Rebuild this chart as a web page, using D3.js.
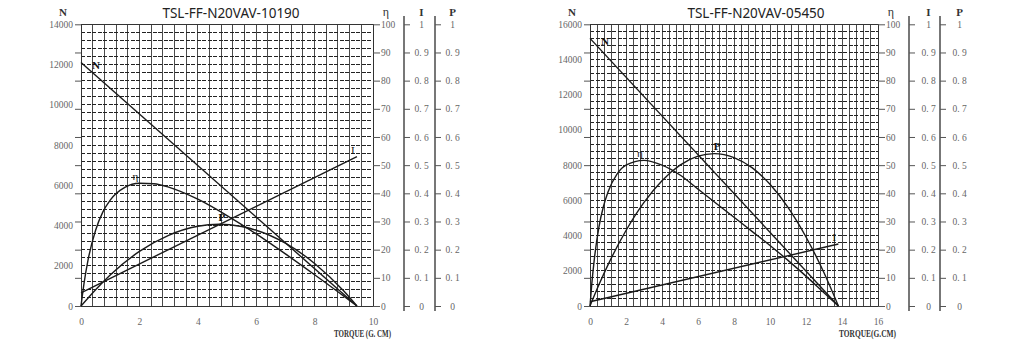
<!DOCTYPE html>
<html>
<head>
<meta charset="utf-8">
<script src="https://cdn.jsdelivr.net/npm/d3@7"></script>
<style>
  body { margin: 0; background: #fff; }
  svg text { font-family: "Liberation Serif", "DejaVu Serif", serif; }
  .tick text { fill: #666; font-size: 9.5px; font-family: "Liberation Serif", "DejaVu Serif", serif; }
  .curve { fill: none; stroke: #1a1a1a; stroke-width: 1.4; }
</style>
</head>
<body>
<svg id="chart" width="1024" height="340"></svg>
<script>
// ============================================================
// DATA — read off the two motor curve sheets
// ============================================================

// left sheet
const titleA = 'TSL-FF-N20VAV-10190';
const torqueTicksA = [0, 2, 4, 6, 8, 10];
const speedTicksA = [0, 2000, 4000, 6000, 8000, 10000, 12000, 14000];
const speedA = [[0, 12100], [9.45, 0]];
const currentA = [[0, 0.047], [9.45, 0.53]];
const effA = [[0, 0], [0.1, 7.8], [0.25, 16.8], [0.5, 26.9], [0.75, 33.4], [1, 37.6], [1.5, 42.1],
    [2, 43.6], [2.5, 43.4], [3, 42.2], [4, 37.9], [5, 32.1], [6, 25.6], [7, 18.5], [8, 11.1],
    [9, 3.5], [9.45, 0]];
const powerA = [[0, 0], [0.5, 0.058], [1, 0.11], [2, 0.194], [3, 0.251], [4, 0.283], [4.725, 0.29],
    [5.5, 0.282], [6, 0.269], [7, 0.223], [8, 0.151], [9, 0.053], [9.45, 0]];

// right sheet
const titleB = 'TSL-FF-N20VAV-05450';
const torqueTicksB = [0, 2, 4, 6, 8, 10, 12, 14, 16];
const speedTicksB = [0, 2000, 4000, 6000, 8000, 10000, 12000, 14000, 16000];
const speedB = [[0, 15200], [13.8, 0]];
const currentB = [[0, 0.015], [13.8, 0.22]];
const effB = [[0, 0], [0.1, 7.9], [0.25, 17.2], [0.5, 28.2], [0.75, 35.4], [1, 40.5], [1.5, 46.8],
    [2, 50.0], [3, 51.7], [4, 50.0], [5, 46.5], [6, 41.5], [7, 36.5], [8, 31.5], [9, 26.5],
    [10, 21.5], [11, 16.2], [12, 10.6], [13, 4.7], [13.8, 0]];
const powerB = [[0, 0], [0.5, 0.076], [1, 0.146], [2, 0.268], [3, 0.368], [4, 0.445], [5, 0.5],
    [6, 0.532], [6.9, 0.541], [8, 0.527], [9, 0.491], [10, 0.432], [11, 0.35], [12, 0.245],
    [13, 0.118], [13.8, 0]];

// shared right-hand scales
const effTicks = [0, 10, 20, 30, 40, 50, 60, 70, 80, 90, 100];
const ratioTicks = [0, 0.1, 0.2, 0.3, 0.4, 0.5, 0.6, 0.7, 0.8, 0.9, 1];

const svg = d3.select('#chart');

function drawSheet(cfg) {
    const top = 24.3, bottom = 306;
    const x = d3.scaleLinear().domain([0, cfg.torqueMax]).range([cfg.left, cfg.right]);
    const yN = d3.scaleLinear().domain([0, cfg.speedMax]).range([bottom, top]);
    const yEff = d3.scaleLinear().domain([0, 100]).range([bottom, top]);
    const yR = d3.scaleLinear().domain([0, 1]).range([bottom, top]);

    const g = svg.append('g');

    // grid: solid verticals every 0.4, dashed horizontals every 400
    const grid = g.append('g').attr('shape-rendering', 'crispEdges');
    grid.selectAll('line.v')
        .data(d3.range(0, cfg.torqueMax + 0.001, 0.4))
        .join('line')
        .attr('x1', d => x(d)).attr('x2', d => x(d))
        .attr('y1', top).attr('y2', bottom)
        .attr('stroke', '#4a4a4a').attr('stroke-width', 1);
    grid.selectAll('line.h')
        .data(d3.range(0, cfg.speedMax + 1, 400))
        .join('line')
        .attr('x1', cfg.left).attr('x2', cfg.right)
        .attr('y1', d => yN(d)).attr('y2', d => yN(d))
        .attr('stroke', '#222').attr('stroke-width', 1)
        .attr('stroke-dasharray', '4,1.5');
    grid.append('rect')
        .attr('x', cfg.left).attr('y', top)
        .attr('width', cfg.right - cfg.left).attr('height', bottom - top)
        .attr('fill', 'none').attr('stroke', '#333');

    // left: speed labels + efficiency-spaced ticks
    const axN = g.append('g').attr('transform', `translate(${cfg.left},0)`)
        .call(d3.axisLeft(yN).tickValues(cfg.speedTicks).tickSize(0).tickPadding(8).tickFormat(d3.format('d')));
    axN.select('.domain').remove();
    const axTick = g.append('g').attr('transform', `translate(${cfg.left},0)`)
        .call(d3.axisLeft(yEff).tickValues(effTicks).tickSize(6).tickFormat(''));
    axTick.select('.domain').remove();
    axTick.selectAll('line').attr('stroke', '#555');

    // bottom torque labels
    const axX = g.append('g').attr('transform', `translate(0,${bottom})`)
        .call(d3.axisBottom(x).tickValues(cfg.torqueTicks).tickSize(0).tickPadding(12));
    axX.select('.domain').remove();

    // efficiency axis on the plot edge
    const axE = g.append('g').attr('transform', `translate(${cfg.right},0)`)
        .call(d3.axisRight(yEff).tickValues(effTicks).tickSize(7).tickPadding(1));
    axE.select('.domain').remove();
    axE.selectAll('line').attr('stroke', '#555');

    // current and power axes
    const fmt = d => (d === 0 || d === 1) ? String(d) : d.toFixed(1).replace('.', '. ');
    [['I', cfg.right + 31], ['P', cfg.right + 62]].forEach(([name, ax]) => {
        const a = g.append('g').attr('transform', `translate(${ax},0)`)
            .call(d3.axisRight(yR).tickValues(ratioTicks).tickSize(6).tickFormat(fmt));
        a.select('.domain').remove();
        a.selectAll('line').attr('stroke', '#555');
        a.selectAll('text').attr('text-anchor', 'middle').attr('x', cfg.labelGap);
        a.append('line')
            .attr('y1', 16).attr('y2', 311)
            .attr('stroke', '#555').attr('stroke-width', 1.6);
        g.append('text')
            .attr('x', ax + cfg.labelGap).attr('y', 16)
            .attr('text-anchor', 'middle')
            .attr('font-size', 11).attr('font-weight', 'bold').attr('fill', '#333')
            .text(name);
    });

    // headers
    g.append('text')
        .attr('x', cfg.left - 18).attr('y', 16)
        .attr('text-anchor', 'middle')
        .attr('font-size', 11).attr('font-weight', 'bold').attr('fill', '#333')
        .text('N');
    g.append('text')
        .attr('x', cfg.right + 13).attr('y', 16)
        .attr('text-anchor', 'middle')
        .attr('font-size', 12).attr('fill', '#333')
        .text('η');
    g.append('text')
        .attr('x', cfg.titleX).attr('y', 18)
        .attr('text-anchor', 'middle')
        .style('font-family', '"Noto Sans", sans-serif')
        .attr('font-size', 13.5).attr('fill', '#222')
        .text(cfg.title);
    g.append('text')
        .attr('x', cfg.right + 18).attr('y', 337)
        .attr('text-anchor', 'end')
        .attr('font-size', 10).attr('font-weight', 'bold').attr('fill', '#333')
        .attr('textLength', 57).attr('lengthAdjust', 'spacingAndGlyphs')
        .text(cfg.xLabel);

    // curves
    const lineN = d3.line().x(d => x(d[0])).y(d => yN(d[1]));
    const lineE = d3.line().x(d => x(d[0])).y(d => yEff(d[1])).curve(d3.curveMonotoneX);
    const lineR = d3.line().x(d => x(d[0])).y(d => yR(d[1]));
    const lineP = d3.line().x(d => x(d[0])).y(d => yR(d[1])).curve(d3.curveMonotoneX);

    g.append('path').attr('class', 'curve').attr('d', lineN(cfg.speed));
    g.append('path').attr('class', 'curve').attr('d', lineR(cfg.current));
    g.append('path').attr('class', 'curve').attr('d', lineE(cfg.eff));
    g.append('path').attr('class', 'curve').attr('d', lineP(cfg.power));

    // curve labels, anchored to the curves
    const peakE = d3.greatest(cfg.eff, d => d[1]);
    const peakP = d3.greatest(cfg.power, d => d[1]);
    const endI = cfg.current[cfg.current.length - 1];
    const startN = cfg.speed[0];
    const tags = [
        ['N', x(startN[0]) + 15, yN(startN[1]) + 3, 'bold'],
        ['η', x(peakE[0]) - 4, yEff(peakE[1]) - 7, 'normal'],
        ['P', x(peakP[0]) + 3, yR(peakP[1]) - 7, 'bold'],
        ['I', x(endI[0]) - 4, yR(endI[1]) - 7, 'normal']
    ];
    g.selectAll('text.tag')
        .data(tags)
        .join('text')
        .attr('class', 'tag')
        .attr('x', d => d[1]).attr('y', d => d[2])
        .attr('dy', '0.35em')
        .attr('text-anchor', 'middle')
        .attr('font-size', 11).attr('font-weight', d => d[3])
        .attr('fill', '#111')
        .text(d => d[0]);
}

drawSheet({
    title: titleA, titleX: 231, xLabel: 'TORQUE (G. CM)',
    left: 81, right: 373, torqueMax: 10, speedMax: 14000, labelGap: 17.5,
    torqueTicks: torqueTicksA, speedTicks: speedTicksA,
    speed: speedA, current: currentA, eff: effA, power: powerA
});

drawSheet({
    title: titleB, titleX: 756, xLabel: 'TORQUE(G.CM)',
    left: 590, right: 878, torqueMax: 16, speedMax: 16000, labelGap: 19.5,
    torqueTicks: torqueTicksB, speedTicks: speedTicksB,
    speed: speedB, current: currentB, eff: effB, power: powerB
});
</script>
</body>
</html>
